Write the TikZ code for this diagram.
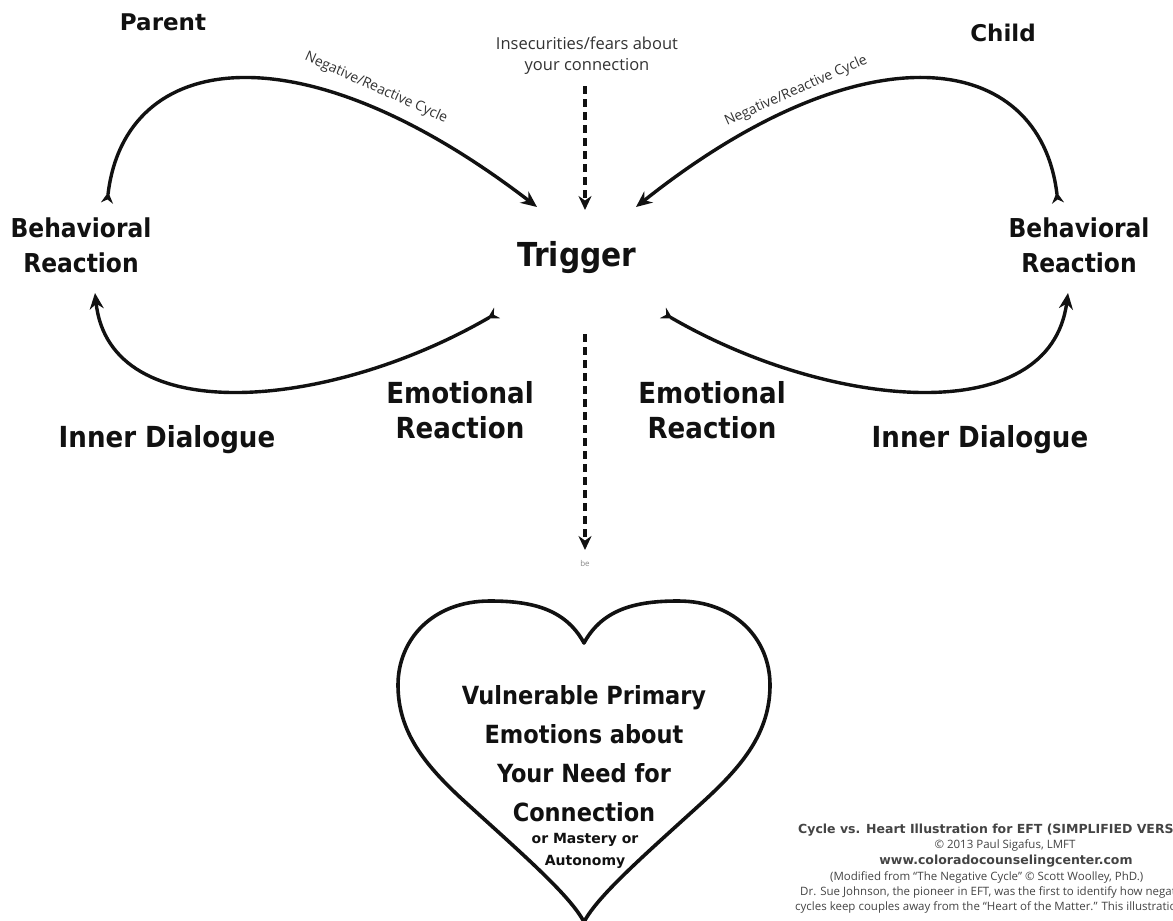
\documentclass[tikz,border=0pt]{standalone}
\usepackage{fontspec}
\setmainfont{DejaVu Sans}
\newfontfamily\lblfont{DejaVu Sans Condensed}
\newfontfamily\headfont{DejaVu Sans}
\newfontfamily\notefont{Open Sans}
\usetikzlibrary{arrows.meta}

\definecolor{ink}{HTML}{111111}
\definecolor{notegray}{HTML}{333333}
\definecolor{credgray}{HTML}{444444}
\definecolor{fadegray}{HTML}{8A8A8A}

\tikzset{
  head/.style={font=\headfont\bfseries\fontsize{23}{26}\selectfont, text=ink, inner sep=0pt},
  lbl/.style={font=\lblfont\bfseries\fontsize{29}{35}\selectfont, text=ink, align=center, inner sep=0pt},
  behlbl/.style={lbl, font=\lblfont\bfseries\fontsize{26}{35}\selectfont},
  heartlbl/.style={font=\lblfont\bfseries\fontsize{25}{39}\selectfont, text=ink, align=center, inner sep=0pt},
  heartsub/.style={font=\headfont\bfseries\fontsize{14}{22}\selectfont, text=ink, align=center, inner sep=0pt},
  note/.style={font=\notefont\fontsize{16.5}{21}\selectfont, text=notegray, align=center, inner sep=0pt},
  cycle label/.style={font=\notefont\fontsize{14}{16}\selectfont, text=notegray, inner sep=0pt},
  cred/.style={font=\notefont\fontsize{11.5}{13}\selectfont, text=credgray, inner sep=0pt},
  credbold/.style={font=\headfont\bfseries\fontsize{12.5}{13}\selectfont, text=credgray, inner sep=0pt},
  loop arrow/.style={draw=ink, line width=3.4pt,
    {Stealth[reversed,length=11pt,width=12pt]}-{Stealth[length=16pt,width=14pt]}},
  dash arrow/.style={draw=ink, line width=3.2pt, dash pattern=on 8pt off 5pt,
    -{Stealth[length=14pt,width=13pt]}},
  heart line/.style={draw=ink, line width=3.6pt, line join=round}
}

\begin{document}
\begin{tikzpicture}[x=1pt,y=-1pt]
\clip (0,0) rectangle (1173,921);
\fill[white] (0,0) rectangle (1173,921);

% --- headings ---
\node[head] (parent) at (163,22) {Parent};
\node[head] (child) at (1003,33) {Child};
\node[note] (insec) at (587,56) {Insecurities/fears about\\your connection};

% --- stage labels ---
\node[behlbl] (behL) at (81,245) {Behavioral\\Reaction};
\node[behlbl] (behR) at (1079,245) {Behavioral\\Reaction};
\node[lbl, font=\lblfont\bfseries\fontsize{33}{35}\selectfont] (trigger) at (577,258) {Trigger};
\node[lbl] (emoL) at (460,410) {Emotional\\Reaction};
\node[lbl] (emoR) at (712,410) {Emotional\\Reaction};
\node[lbl] (innerL) at (167,440) {Inner Dialogue};
\node[lbl] (innerR) at (980,440) {Inner Dialogue};

% --- end points of the loops ---
\coordinate (tlStart) at (107,203);
\coordinate (tlEnd)   at (537,207);
\coordinate (trStart) at (1058,203);
\coordinate (trEnd)   at (636,207);
\coordinate (blStart) at (497,313);
\coordinate (blEnd)   at (95,293);
\coordinate (brStart) at (663,313);
\coordinate (brEnd)   at (1068,293);

% --- negative/reactive loops ---
\draw[loop arrow] (tlStart) .. controls (125,50) and (300,25) .. (tlEnd);
\draw[loop arrow] (trStart) .. controls (1040,50) and (865,25) .. (trEnd);
\draw[loop arrow] (blStart) .. controls (330,410) and (110,430) .. (blEnd);
\draw[loop arrow] (brStart) .. controls (830,410) and (1050,430) .. (brEnd);

\node[cycle label, rotate=-24] (cycL) at (376,88) {Negative/Reactive Cycle};
\node[cycle label, rotate=24] (cycR) at (796,91) {Negative/Reactive Cycle};

% --- dashed links through the trigger ---
\coordinate (insecFoot) at (585,86);
\coordinate (trigTop)   at (585,210);
\coordinate (trigFoot)  at (585,334);
\coordinate (heartTop)  at (585,550);
\draw[dash arrow] (insecFoot) -- (trigTop);
\draw[dash arrow] (trigFoot) -- (heartTop);
\node[font=\notefont\fontsize{8}{9}\selectfont, text=fadegray, inner sep=0pt] (be) at (585,563) {be};

% --- heart ---
\draw[heart line] (584,643)
  .. controls (565,608) and (530,601) .. (490,601)
  .. controls (432,601) and (398,640) .. (398,685)
  .. controls (398,732) and (425,765) .. (463,800)
  .. controls (520,852) and (570,895) .. (584,922)
  .. controls (598,895) and (648,852) .. (705,800)
  .. controls (743,765) and (770,732) .. (770,685)
  .. controls (770,640) and (736,601) .. (678,601)
  .. controls (638,601) and (603,608) .. (584,643) -- cycle;

\node[heartlbl] (core) at (584,754) {Vulnerable Primary\\Emotions about\\Your Need for\\Connection};
\node[heartsub] (alt) at (585,851) {or Mastery or\\Autonomy};

% --- credits ---
\node[credbold, anchor=west] (cTitle) at (798,830) {Cycle vs. Heart Illustration for EFT (SIMPLIFIED VERSION)};
\node[cred] (cCopy) at (1005,845) {© 2013 Paul Sigafus, LMFT};
\node[credbold] (cWeb) at (1006,861) {www.coloradocounselingcenter.com};
\node[cred, anchor=west] (cMod) at (830,877) {(Modified from “The Negative Cycle” © Scott Woolley, PhD.)};
\node[cred, anchor=west] (cSue) at (800,892) {Dr. Sue Johnson, the pioneer in EFT, was the first to identify how negative};
\node[cred, anchor=west] (cKeep) at (795,907) {cycles keep couples away from the “Heart of the Matter.” This illustration};
\end{tikzpicture}
\end{document}
